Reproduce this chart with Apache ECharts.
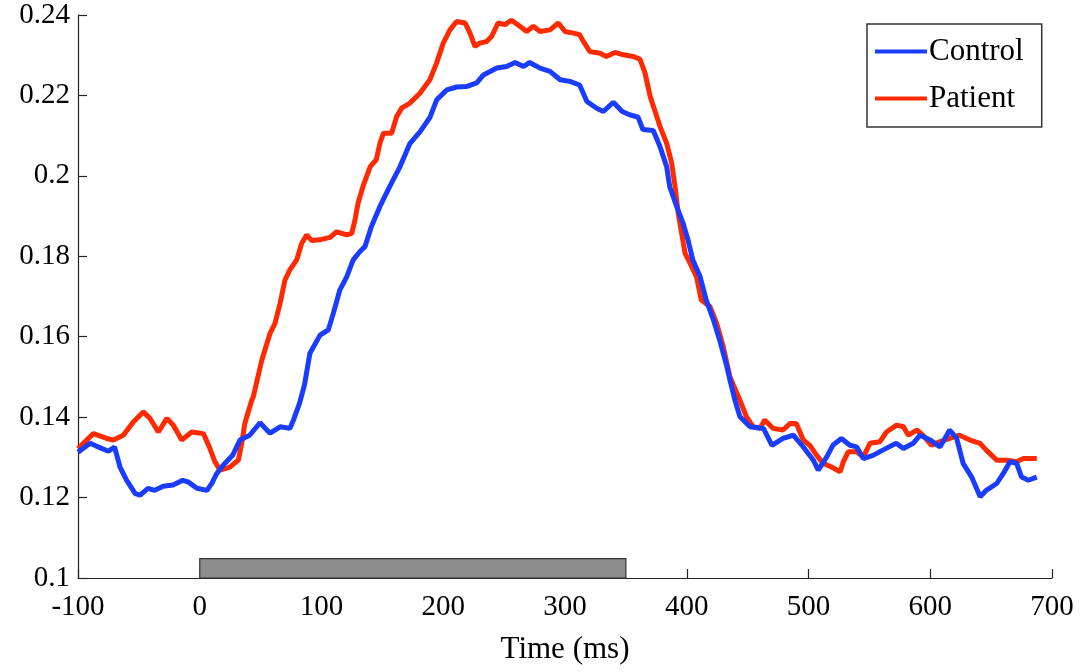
<!DOCTYPE html>
<html>
<head>
<meta charset="utf-8">
<script src="https://cdn.jsdelivr.net/npm/echarts@6/dist/echarts.min.js"></script>
<style>
html,body{margin:0;padding:0;background:#fff;}
#chart{width:1083px;height:672px;}
</style>
</head>
<body>
<div id="chart"></div>
<script>
// ---- data ----
const controlTime = [-100,-90,-85,-75,-70,-65.5,-60,-53,-49,-42.5,-37,-30,-22,-14,-9.6,-2.3,6,10,14,19,27,33,41,49.5,57.7,66,74,77,82,86,90.5,98.8,105.6,109.7,115,120.7,126,131.6,135.7,141,148,156,164.5,172.7,181,189,194.6,203,211,219,227.5,233,244,252,259,266,271,279.5,287.7,296,304,312,318,326,331.5,339.7,347,353,360,364,372.5,378,383.5,386,391.7,397,401,405,411,416,422,427,433,435.5,439.6,443.7,452,463,470,479,487.5,495.7,504,508,515,520,527,534,539.6,545,553,561,572,578,586,591.6,600,608,616,621.7,627,634,641,646,654.6,660,665.5,671,675,680.5,687.5];
const controlValue = [0.1313,0.1335,0.1328,0.1315,0.1326,0.1276,0.1243,0.1210,0.1206,0.1223,0.1218,0.1228,0.1231,0.1243,0.1239,0.1223,0.1218,0.1236,0.1260,0.1280,0.1305,0.1343,0.1355,0.1386,0.1360,0.1376,0.1372,0.1393,0.1435,0.1480,0.1559,0.1604,0.1617,0.1658,0.1716,0.1749,0.1791,0.1812,0.1824,0.1874,0.1924,0.1973,0.2023,0.2081,0.2110,0.2145,0.2189,0.2214,0.2221,0.2222,0.2231,0.2251,0.2268,0.2272,0.2282,0.2272,0.2282,0.2268,0.2260,0.2239,0.2235,0.2226,0.2185,0.2168,0.2160,0.2183,0.2160,0.2152,0.2146,0.2115,0.2113,0.2073,0.2023,0.1973,0.1924,0.1882,0.1841,0.1791,0.1749,0.1691,0.1641,0.1592,0.1525,0.1492,0.1442,0.1401,0.1376,0.1372,0.1330,0.1347,0.1355,0.1326,0.1293,0.1268,0.1301,0.1330,0.1347,0.1330,0.1326,0.1297,0.1305,0.1318,0.1335,0.1322,0.1335,0.1355,0.1343,0.1326,0.1368,0.1347,0.1285,0.1251,0.1202,0.1218,0.1235,0.1260,0.1289,0.1285,0.1251,0.1243,0.1251];
const patientTime = [-100,-87.4,-76.4,-71,-62.8,-54.6,-46.4,-40.9,-34,-27,-21.7,-14.8,-6.6,3,8.4,12.5,16.6,24.8,31.7,34.5,37,42.7,44,51,57.7,61.8,66,70,74,79.6,83.7,87.8,92,100,107,112.5,120.7,124.8,127.5,130,134,140,145,148,150.8,157.6,161.8,166,172.7,181,189,194.6,200,205.5,211,218,222,226,230,235.7,239.8,245,250.7,256,263,268.5,274,279.5,287.7,294.5,300,307,312,316,320.5,328.8,334,341,348,356,361.6,365.7,370,375.3,378,383.5,387.6,390.4,393,395.8,398.6,402.7,408,412,419,424.6,430,435.5,443.7,449,454.6,460,464,471,479,484.8,490,495.7,501,506.7,512,519,526,528.6,532.7,539.6,545,550.5,558.7,564,572.4,578,582,589,594,601,608,616,624,632.6,640.8,646,654.6,662.8,671,676.5,687.5];
const patientValue = [0.1322,0.1359,0.1347,0.1343,0.1355,0.1388,0.1413,0.1397,0.1363,0.1397,0.1380,0.1343,0.1363,0.1359,0.1322,0.1289,0.1268,0.1276,0.1293,0.1335,0.1384,0.1442,0.1451,0.1542,0.1608,0.1633,0.1683,0.1741,0.1766,0.1791,0.1832,0.1853,0.1839,0.1842,0.1847,0.1861,0.1853,0.1857,0.1890,0.1932,0.1973,0.2023,0.2040,0.2081,0.2106,0.2106,0.2148,0.2169,0.2181,0.2206,0.2239,0.2281,0.2330,0.2363,0.2384,0.2380,0.2355,0.2322,0.2330,0.2334,0.2347,0.2380,0.2376,0.2387,0.2372,0.2359,0.2372,0.2359,0.2363,0.2380,0.2359,0.2355,0.2351,0.2330,0.2309,0.2305,0.2297,0.2307,0.2301,0.2297,0.2290,0.2256,0.2197,0.2148,0.2123,0.2081,0.2032,0.1973,0.1907,0.1857,0.1808,0.1783,0.1749,0.1691,0.1675,0.1633,0.1575,0.1500,0.1442,0.1401,0.1376,0.1372,0.1393,0.1372,0.1368,0.1384,0.1384,0.1343,0.1330,0.1305,0.1285,0.1276,0.1264,0.1289,0.1314,0.1314,0.1301,0.1335,0.1339,0.1363,0.1380,0.1376,0.1355,0.1368,0.1355,0.1330,0.1339,0.1347,0.1355,0.1343,0.1335,0.1318,0.1293,0.1293,0.1289,0.1297,0.1297];
const stimulusSpan = [0, 350];      // ms
const stimulusHeight = [0.1, 0.1048];
const seriesNames = ['Control', 'Patient'];
const xTicks = {min: -100, max: 700, interval: 100};
const yTicks = {min: 0.1, max: 0.24, interval: 0.02};
const xAxisTitle = 'Time (ms)';

// ---- chart ----
const FONT = 'Liberation Serif';
const zip = (a, b) => a.map((t, i) => [t, b[i]]);
const chart = echarts.init(document.getElementById('chart'), null, {renderer: 'canvas'});
chart.setOption({
  animation: false,
  backgroundColor: '#fff',
  textStyle: {fontFamily: FONT, color: '#000'},
  grid: {left: 78, right: 31, top: 15, bottom: 94, containLabel: false},
  legend: {
    orient: 'vertical',
    left: 867, top: 24,
    padding: [12, 18, 13, 8],
    borderColor: '#333', borderWidth: 1.5,
    backgroundColor: '#fff',
    itemWidth: 52, itemHeight: 30, itemGap: 16,
    textStyle: {fontFamily: FONT, fontSize: 31, color: '#000', lineHeight: 30, padding: [0, 0, 0, -3]},
    data: seriesNames.map(n => ({name: n, icon: 'path://M0,13 L52,13 L52,17 L0,17 Z'}))
  },
  xAxis: {
    type: 'value',
    min: xTicks.min, max: xTicks.max, interval: xTicks.interval,
    name: xAxisTitle, nameLocation: 'middle', nameGap: 56,
    nameTextStyle: {fontFamily: FONT, fontSize: 31, color: '#000'},
    axisLine: {show: true, onZero: false, lineStyle: {color: '#222', width: 1.2}},
    axisTick: {show: true, inside: true, length: 9, lineStyle: {color: '#222', width: 1.2}},
    axisLabel: {fontFamily: FONT, fontSize: 29, color: '#000', margin: 15},
    splitLine: {show: false}
  },
  yAxis: {
    type: 'value',
    min: yTicks.min, max: yTicks.max, interval: yTicks.interval,
    axisLine: {show: true, onZero: false, lineStyle: {color: '#222', width: 1.2}},
    axisTick: {show: true, inside: true, length: 9, lineStyle: {color: '#222', width: 1.2}},
    axisLabel: {fontFamily: FONT, fontSize: 29, color: '#000', margin: 8,
      formatter: v => String(+v.toFixed(2))},
    splitLine: {show: false}
  },
  series: [
    {
      name: seriesNames[0], type: 'line', data: zip(controlTime, controlValue),
      symbol: 'none', smooth: false,
      lineStyle: {color: '#1a3cff', width: 5},
      itemStyle: {color: '#1a3cff'},
      z: 3,
      markArea: {
        silent: true,
        itemStyle: {color: '#8c8c8c', borderColor: '#333', borderWidth: 1.2},
        data: [[{coord: [stimulusSpan[0], stimulusHeight[0]]}, {coord: [stimulusSpan[1], stimulusHeight[1]]}]]
      }
    },
    {
      name: seriesNames[1], type: 'line', data: zip(patientTime, patientValue),
      symbol: 'none', smooth: false,
      lineStyle: {color: '#ff2a00', width: 5},
      itemStyle: {color: '#ff2a00'},
      z: 2
    }
  ]
});
</script>
</body>
</html>
